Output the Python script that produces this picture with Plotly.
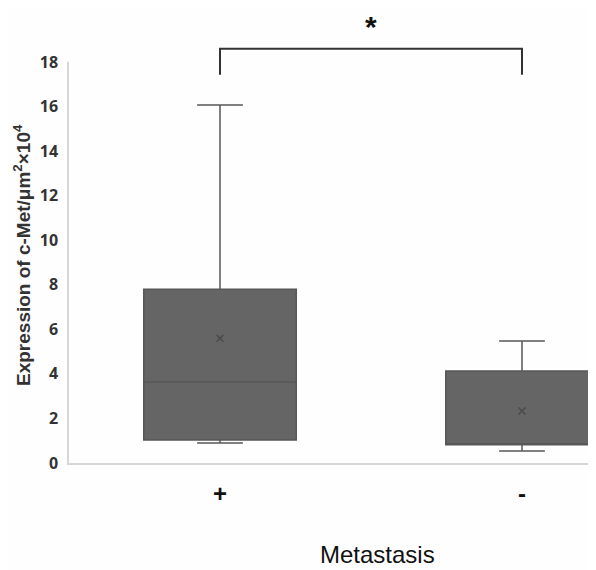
import plotly.graph_objects as go

categories = ["+", "-"]
xpos = [0, 1]
q1 = [1.03, 0.82]
median = [3.64, 0.85]
q3 = [7.8, 4.13]
lower = [0.9, 0.54]
upper = [16.07, 5.48]
means = [5.6, 2.33]
y_ticks = [0, 2, 4, 6, 8, 10, 12, 14, 16, 18]

fig = go.Figure()
fig.add_trace(go.Box(
    x=xpos, q1=q1, median=median, q3=q3, lowerfence=lower, upperfence=upper,
    width=0.505, whiskerwidth=0.3,
    fillcolor="#656565", line=dict(color="#575757", width=1.5),
    boxpoints=False, showlegend=False, hoverinfo="skip",
))
fig.add_trace(go.Scatter(
    x=xpos, y=means, mode="markers",
    marker=dict(symbol="x-thin", size=7, line=dict(color="#4a4a4a", width=1.5)),
    showlegend=False, hoverinfo="skip",
))

# significance bracket
fig.add_shape(type="path", xref="x", yref="paper",
              path="M 0,0.968 L 0,1.033 L 1,1.033 L 1,0.968",
              line=dict(color="#333333", width=2))
fig.add_annotation(x=0.5, xref="x", y=1.134, yref="paper", text="<b>*</b>",
                   showarrow=False, font=dict(size=30, color="#111111", family="Liberation Sans"),
                   yanchor="top")

# axis titles
fig.add_annotation(x=0.52, xref="x", y=-0.227, yref="paper", text="Metastasis",
                   showarrow=False, yanchor="middle", xanchor="center",
                   font=dict(family="Liberation Sans", size=24, color="#111111"))
fig.add_annotation(x=-0.089, xref="paper", y=0.519, yref="paper",
                   text="Expression of c-Met/μm<sup>2</sup>×10<sup>4</sup>",
                   textangle=-90, showarrow=False, xanchor="center", yanchor="middle",
                   font=dict(family="Liberation Sans Narrow, Liberation Sans", size=19,
                             color="#333333", weight="bold"))

fig.update_layout(
    width=588, height=562,
    margin=dict(l=61, r=0, t=54, b=107, autoexpand=False),
    paper_bgcolor="#fefefe", plot_bgcolor="#fefefe",
    xaxis=dict(range=[-0.5, 1.245], tickvals=xpos, ticktext=categories, automargin=False,
               showgrid=False, zeroline=False, showline=True, linecolor="#d6d6d6", linewidth=1.5,
               tickfont=dict(family="Liberation Sans", size=24, color="#111111", weight="bold"),
               ticks="", ticklabelstandoff=8),
    yaxis=dict(range=[0, 18], tickvals=y_ticks, ticktext=[str(v) for v in y_ticks], automargin=False,
               showgrid=False, zeroline=False, showline=True, linecolor="#d6d6d6", linewidth=1.5,
               ticks="", ticklabelstandoff=6,
               tickfont=dict(family="Open Sans", size=16, color="#333333", weight="bold")),
)
fig.write_html("out.html")
